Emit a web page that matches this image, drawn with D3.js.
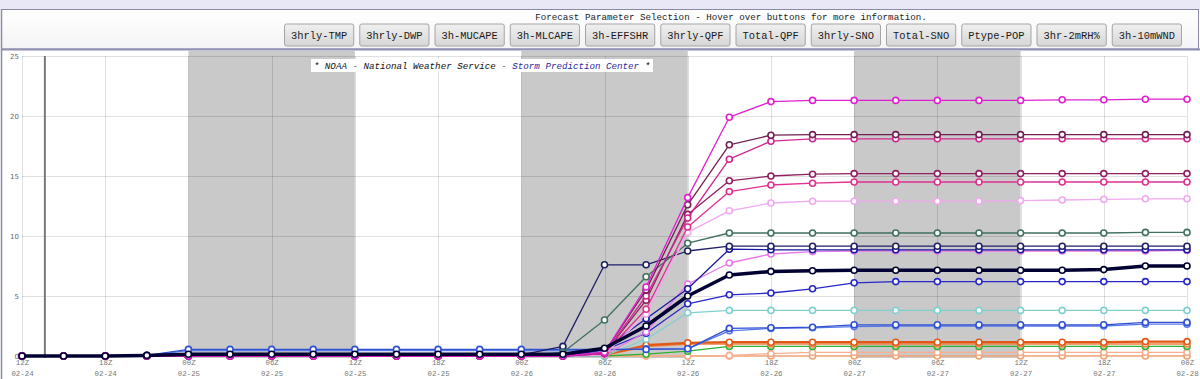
<!DOCTYPE html>
<html><head><meta charset="utf-8">
<script src="https://cdn.jsdelivr.net/npm/d3@7"></script>
<style>body{margin:0;background:#fff;overflow:hidden}</style>
</head><body><svg id="c" width="1200" height="379"></svg>
<script>
// ---- data ----
const tickHours = ["12Z","18Z","00Z","06Z","12Z","18Z","00Z","06Z","12Z","18Z","00Z","06Z","12Z","18Z","00Z"];
const tickDates = ["02-24","02-24","02-25","02-25","02-25","02-25","02-26","02-26","02-26","02-26","02-27","02-27","02-27","02-27","02-28"];
const yTicks = [0,5,10,15,20,25];
const buttonLabels = ["3hrly-TMP","3hrly-DWP","3h-MUCAPE","3h-MLCAPE","3h-EFFSHR","3hrly-QPF","Total-QPF","3hrly-SNO","Total-SNO","Ptype-POP","3hr-2mRH%","3h-10mWND"];
const nightSpans = [[4,8],[12,16],[20,24]];   // step indices (3-hourly)
const nowStep = 0.55;

const sM1 = [0,0,0,0,0,0,0,0,0,0,0,0,0,0, 0.3,5.75,13.2,19.9,21.2, 21.3,21.3,21.3,21.3,21.3,21.3,21.35,21.35,21.4,21.4];
const sM2 = [0,0,0,0,0,0,0,0,0,0,0,0,0,0, 0.3,5.5,12.6,17.6,18.4, 18.45,18.45,18.45,18.45,18.45,18.45,18.45,18.45,18.45,18.45];
const sM3 = [0,0,0,0,0,0,0,0,0,0,0,0,0,0, 0.2,5.0,11.5,16.4,17.9, 18.1,18.1,18.1,18.1,18.1,18.1,18.1,18.1,18.1,18.1];
const sM4 = [0,0,0,0,0,0,0,0,0,0,0,0,0,0, 0.2,4.65,11.8,14.6,15.0,15.15, 15.2,15.2,15.2,15.2,15.2,15.2,15.2,15.2,15.2];
const sM5 = [0,0,0,0,0,0,0,0,0,0,0,0,0,0, 0.2,3.9,10.75,13.7,14.25,14.4, 14.5,14.5,14.5,14.5,14.5,14.5,14.5,14.5,14.5];
const sM6 = [0,0,0,0,0,0,0,0,0,0,0,0,0,0, 0.1,3.5,10.3,12.1,12.75, 12.9,12.9,12.9,12.9,12.9,12.95,13.0,13.05,13.1,13.1];
const sM7 = [0,0,0,0,0,0,0,0,0,0,0,0,0,0, 0.1,2.0,6.0,7.75,8.5,8.7, 8.75,8.75,8.75,8.75,8.75,8.75,8.75,8.75,8.8];
const sG1 = [0,0,0,0,0,0,0,0,0,0,0,0,0, 0.3,3.0,6.6,9.4,10.25, 10.25,10.25,10.25,10.25,10.25,10.25,10.25,10.25,10.25,10.3,10.3];
const sN1 = [0,0,0,0, 0.1,0.1,0.1,0.1,0.1,0.1,0.1,0.1,0.1, 0.8,7.6,7.6,8.75,9.15, 9.15,9.15,9.15,9.15,9.15,9.15,9.15,9.15,9.15,9.15,9.15];
const sN2 = [0,0,0,0, 0.1,0.1,0.1,0.1,0.1,0.1,0.1,0.1,0.1,0.1, 0.6,3.1,5.6,8.9, 8.85,8.85,8.85,8.85,8.85,8.85,8.85,8.85,8.85,8.85,8.85];
const sB1 = [0,0,0,0,0,0,0,0,0,0,0,0,0,0, 0.5,1.9,4.35,5.1,5.25,5.6,6.1, 6.2,6.2,6.2,6.2,6.2,6.2,6.2,6.2];
const sC1 = [0,0,0,0,0,0,0,0,0,0,0,0,0,0,0, 1.4,3.6,3.8, 3.8,3.8,3.8,3.8,3.8,3.8,3.8,3.8,3.8,3.8,3.8];
const sB2 = [0,0,0,0.05, 0.55,0.55,0.55,0.55,0.55,0.55,0.55,0.55,0.55,0.55,0.55,0.55, 0.6,2.3,2.35,2.4,2.6, 2.6,2.6,2.6,2.6,2.6,2.6, 2.8,2.8];
const sB3 = [0,0,0,0.05, 0.45,0.45,0.45,0.45,0.45,0.45,0.45,0.45,0.45,0.45, 0.5,0.6,0.6, 2.1,2.3,2.35,2.45, 2.5,2.5,2.5,2.5,2.5,2.5, 2.65,2.65];
const sO1 = [0,0,0,0,0,0,0,0,0,0,0,0,0,0, 0.1,0.9,1.1, 1.15,1.15,1.15,1.15,1.15,1.15,1.15,1.15,1.15,1.15, 1.2,1.2];
const sO2 = [0,0,0,0,0,0,0,0,0,0,0,0,0,0, 0.05,0.8,1.0, 1.0,1.0,1.0,1.0,1.0,1.0,1.0,1.0,1.0,1.0,1.0,1.0];
const sGr = [0,0,0,0,0,0,0,0,0,0,0,0,0,0,0, 0.15,0.4,0.8, 0.8,0.8,0.8,0.8,0.8,0.8,0.8,0.8,0.8,0.8,0.8];
const sS1 = [0,0,0,0,0,0,0,0,0,0,0,0,0,0,0,0,0, 0.05,0.2, 0.3,0.3,0.3,0.3,0.3,0.3,0.3,0.3,0.3,0.3];
const sS2 = [0,0,0,0,0,0,0,0,0,0,0,0,0,0,0,0,0,0,0,0,0,0,0,0,0,0,0,0,0];
const sMean = [0,0,0,0.05, 0.15,0.15,0.15,0.15,0.15,0.15,0.15,0.15,0.15,0.15, 0.65,2.5,5.0,6.75,7.05,7.1, 7.15,7.15,7.15,7.15,7.15,7.15, 7.2,7.5,7.5];

const series = [
  {v:sS2, c:"#f0a070", w:1.3},
  {v:sS1, c:"#f4b090", w:1.3},
  {v:sGr, c:"#30b030", w:1.3},
  {v:sO2, c:"#f08040", w:1.5},
  {v:sO1, c:"#e05818", w:2.2},
  {v:sC1, c:"#80d0d0", w:1.3},
  {v:sB3, c:"#5878e8", w:1.3},
  {v:sB2, c:"#3050d0", w:1.3},
  {v:sB1, c:"#2828c8", w:1.3},
  {v:sM7, c:"#e878e8", w:1.3},
  {v:sN2, c:"#1818a0", w:1.3},
  {v:sN1, c:"#202068", w:1.3},
  {v:sG1, c:"#407060", w:1.3},
  {v:sM6, c:"#f0a8f0", w:1.3},
  {v:sM5, c:"#e03090", w:1.3},
  {v:sM4, c:"#902060", w:1.3},
  {v:sM3, c:"#d02890", w:1.3},
  {v:sM2, c:"#702050", w:1.3},
  {v:sM1, c:"#e020d0", w:1.3},
  {v:sMean, c:"#000033", w:3.5}
];

// ---- drawing ----
const svg = d3.select("#c");
const W = 1200, H = 379;
const plotTop = 50, plotBottom = 358;
const x = d3.scaleLinear().domain([0,28]).range([22,1187]);
const y = d3.scaleLinear().domain([0,25]).range([356,56]);

// page bits
svg.append("rect").attr("x",0).attr("y",0).attr("width",W).attr("height",10).attr("fill","#e8e8f6");
const hg = svg.append("defs").append("linearGradient").attr("id","hdr").attr("x1",0).attr("y1",0).attr("x2",0).attr("y2",1);
hg.append("stop").attr("offset","0%").attr("stop-color","#ffffff");
hg.append("stop").attr("offset","100%").attr("stop-color","#f4f4f6");
const bg = svg.select("defs").append("linearGradient").attr("id","btn").attr("x1",0).attr("y1",0).attr("x2",0).attr("y2",1);
bg.append("stop").attr("offset","0%").attr("stop-color","#f0f0f0");
bg.append("stop").attr("offset","100%").attr("stop-color","#d6d6d6");
svg.append("rect").attr("x",1.5).attr("y",9.5).attr("width",1197).attr("height",39.5)
  .attr("fill","url(#hdr)").attr("stroke","#8a8aa8").attr("stroke-width",1);
svg.append("line").attr("x1",1).attr("x2",W).attr("y1",49.5).attr("y2",49.5).attr("stroke","#9090b0").attr("stroke-width",2);
svg.append("line").attr("x1",1.5).attr("x2",1.5).attr("y1",9).attr("y2",H).attr("stroke","#8a8aa8").attr("stroke-width",1.5);

svg.append("text").attr("x",731).attr("y",19.5).attr("text-anchor","middle")
  .attr("font-family","Liberation Mono, monospace").attr("font-size",9.2).attr("fill","#222")
  .text("Forecast Parameter Selection - Hover over buttons for more information.");

const bx = d3.scaleBand().domain(buttonLabels).range([283,1183]).paddingInner(0.08).paddingOuter(0.02);
const btn = svg.append("g").selectAll("g").data(buttonLabels).join("g")
  .attr("transform", d => `translate(${bx(d)},24)`);
btn.append("rect").attr("width",bx.bandwidth()).attr("height",22).attr("rx",2)
  .attr("fill","url(#btn)").attr("stroke","#a4a4a4");
btn.append("text").attr("x",bx.bandwidth()/2).attr("y",15).attr("text-anchor","middle")
  .attr("font-family","Liberation Mono, monospace").attr("font-size",10.4).attr("fill","#1a1a1a")
  .text(d => d);

// plot background
svg.append("rect").attr("x",3).attr("y",plotTop+1).attr("width",W-4).attr("height",plotBottom-plotTop)
  .attr("fill","#ffffff");
svg.append("g").selectAll("rect").data(nightSpans).join("rect")
  .attr("x", d => x(d[0])).attr("width", d => x(d[1]) - x(d[0]))
  .attr("y", plotTop+1).attr("height", plotBottom - plotTop - 1).attr("fill","#c9c9c9");

// grid
svg.append("g").selectAll("line").data(yTicks.slice(1)).join("line")
  .attr("x1",22).attr("x2",1187).attr("y1",d=>y(d)+0.5).attr("y2",d=>y(d)+0.5)
  .attr("stroke","rgba(0,0,0,0.12)");
const xTickSteps = tickHours.map((_,i)=>i*2);
svg.append("g").selectAll("line").data(xTickSteps).join("line")
  .attr("x1",d=>Math.round(x(d))+0.5).attr("x2",d=>Math.round(x(d))+0.5).attr("y1",56).attr("y2",plotBottom)
  .attr("stroke","rgba(0,0,0,0.12)");
// current-time marker
svg.append("line").attr("x1",x(nowStep)).attr("x2",x(nowStep)).attr("y1",56).attr("y2",plotBottom)
  .attr("stroke","#7a7a7a").attr("stroke-width",2);

// axes
const yAxis = d3.axisLeft(y).tickValues(yTicks).tickSize(0).tickPadding(0);
const yg = svg.append("g").attr("transform","translate(19,0)").call(yAxis);
yg.select(".domain").remove();
yg.selectAll("text").attr("font-family","DejaVu Sans, sans-serif").attr("font-size",7).attr("fill","#666");

const xAxis = d3.axisBottom(x).tickValues(xTickSteps).tickSize(0).tickPadding(0).tickFormat((d,i)=>tickHours[i]);
const xg = svg.append("g").attr("transform","translate(0,360)").call(xAxis);
xg.select(".domain").remove();
xg.selectAll("text").attr("font-family","Liberation Mono, monospace").attr("font-size",7.4).attr("fill","#777")
  .attr("dy","0.71em");
xg.selectAll(".tick").append("text").attr("y",11).attr("dy","0.71em")
  .attr("font-family","Liberation Mono, monospace").attr("font-size",7.4).attr("fill","#777")
  .attr("text-anchor","middle").text((d,i)=>tickDates[i]);

// credit label
svg.append("rect").attr("x",311).attr("y",59).attr("width",342).attr("height",13).attr("fill","#ffffff");
const cred = svg.append("text").attr("x",482).attr("y",69).attr("text-anchor","middle")
  .attr("font-family","Liberation Mono, monospace").attr("font-size",9.2).attr("font-style","italic").attr("fill","#111");
cred.append("tspan").text("* NOAA - National Weather Service - ");
cred.append("tspan").attr("fill","#2a2aa0").text("Storm Prediction Center");
cred.append("tspan").text(" *");

// series
const line = d3.line().x((d,i)=>x(i)).y(d=>y(d));
const sg = svg.append("g");
series.forEach(s => {
  const g = sg.append("g");
  g.append("path").attr("d", line(s.v)).attr("fill","none").attr("stroke",s.c).attr("stroke-width",s.w)
    .attr("stroke-linejoin","round");
  g.selectAll("circle").data(s.v).join("circle")
    .attr("cx",(d,i)=>x(i)).attr("cy",d=>y(d)).attr("r",3)
    .attr("fill","#ffffff").attr("stroke",s.c).attr("stroke-width",1.6);
});
</script></body></html>
